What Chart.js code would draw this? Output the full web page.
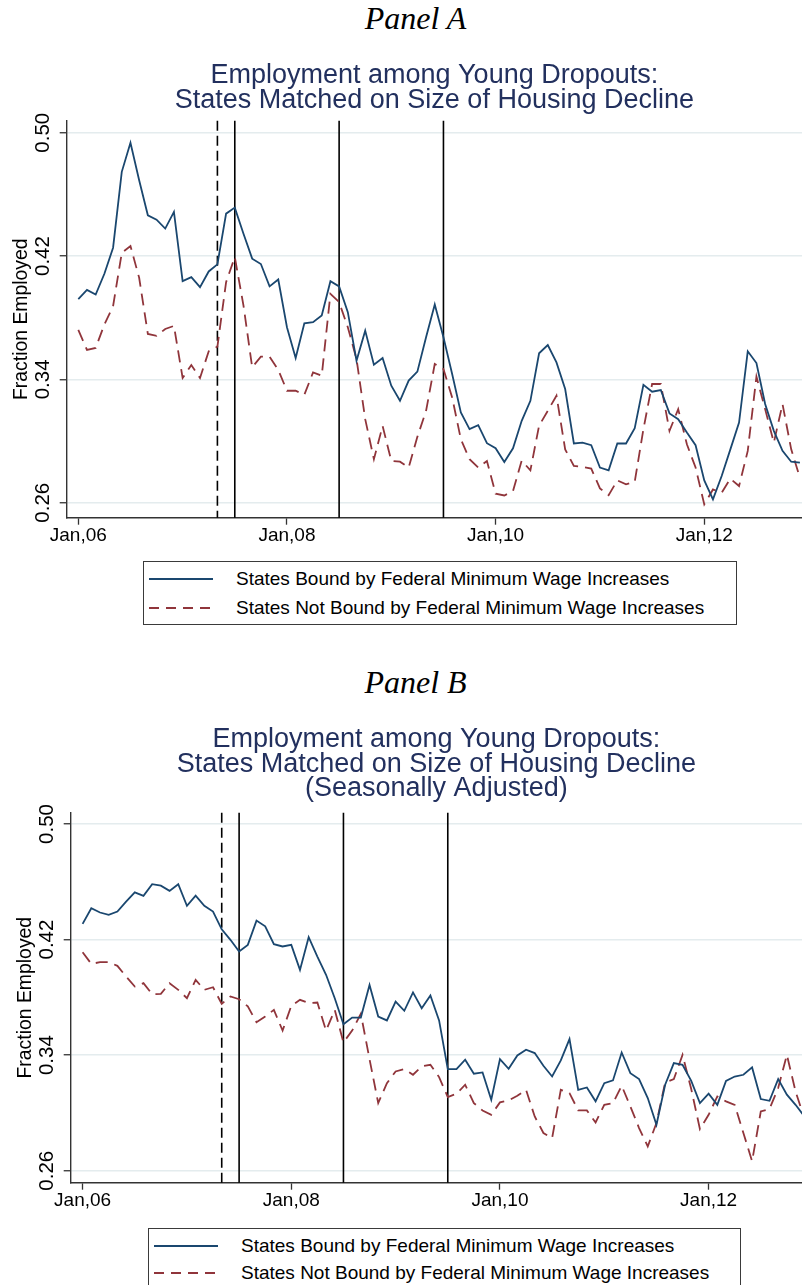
<!DOCTYPE html>
<html>
<head>
<meta charset="utf-8">
<script src="https://cdn.jsdelivr.net/npm/chart.js@4.4.1/dist/chart.umd.min.js"></script>
<style>
html,body{margin:0;padding:0;background:#fff;}
body{width:802px;height:1285px;position:relative;overflow:hidden;font-family:"Liberation Sans",Arial,sans-serif;}
.panel{position:absolute;font-family:"Liberation Serif","Times New Roman",serif;font-style:italic;font-size:32px;line-height:32px;color:#000;white-space:nowrap;}
canvas{position:absolute;left:0;}
.legend{position:absolute;border:1px solid #3a3a3a;box-sizing:border-box;background:#fff;}
.legend svg{position:absolute;left:5px;}
.legend span{position:absolute;left:92px;font-size:19px;line-height:22px;height:22px;color:#000;white-space:nowrap;}
</style>
</head>
<body>
<div class="panel" id="panelA" style="top:1.5px;"><span>Panel A</span></div>
<canvas id="chartA" width="802" height="548" style="top:0px;width:802px;height:548px;"></canvas>
<div class="legend" style="left:143px;top:561px;width:594px;height:64px;">
  <svg style="top:15px" width="64" height="4"><line x1="0" y1="2" x2="64" y2="2" stroke="#1a476f" stroke-width="1.8"/></svg>
  <span style="top:6px">States Bound by Federal Minimum Wage Increases</span>
  <svg style="top:44px" width="64" height="4"><line x1="0" y1="2" x2="64" y2="2" stroke="#90353b" stroke-width="1.8" stroke-dasharray="10 7"/></svg>
  <span style="top:35px">States Not Bound by Federal Minimum Wage Increases</span>
</div>

<div class="panel" id="panelB" style="top:666px;"><span>Panel B</span></div>
<canvas id="chartB" width="802" height="520" style="top:700px;width:802px;height:520px;"></canvas>
<div class="legend" style="left:148px;top:1228px;width:593px;height:72px;">
  <svg style="top:15px" width="64" height="4"><line x1="0" y1="2" x2="64" y2="2" stroke="#1a476f" stroke-width="1.8"/></svg>
  <span style="top:6px">States Bound by Federal Minimum Wage Increases</span>
  <svg style="top:42px" width="64" height="4"><line x1="0" y1="2" x2="64" y2="2" stroke="#90353b" stroke-width="1.8" stroke-dasharray="10 7"/></svg>
  <span style="top:33px">States Not Bound by Federal Minimum Wage Increases</span>
</div>

<script>
// ---------- data (monthly, Jan 2006 = month 0 ... Dec 2012 = month 83) ----------
const seriesNames = ['States Bound by Federal Minimum Wage Increases', 'States Not Bound by Federal Minimum Wage Increases'];
const xTickPositions = [0, 24, 48, 72];
const xTickLabels = ['Jan,06', 'Jan,08', 'Jan,10', 'Jan,12'];
const yTickValues = [0.26, 0.34, 0.42, 0.50];
const eventMonths = [16, 18, 30, 42];          // May 2007 (dashed), Jul 2007, Jul 2008, Jul 2009
const eventDashed = [true, false, false, false];

const titleA = ['Employment among Young Dropouts:', 'States Matched on Size of Housing Decline'];
const titleB = ['Employment among Young Dropouts:', 'States Matched on Size of Housing Decline', '(Seasonally Adjusted)'];

// Panel A: raw
const boundA = [0.392,0.398,0.395,0.4085,0.4254,0.4746,0.4935,0.4692,0.4464,0.4436,0.4378,0.4486,
0.4037,0.4063,0.3998,0.410,0.4146,0.4475,0.4514,0.4345,0.4183,0.4148,0.4003,0.4048,
0.3738,0.3539,0.3764,0.3771,0.3814,0.4037,0.4003,0.3836,0.3521,0.3716,0.3495,0.3539,
0.3359,0.3261,0.3392,0.345,0.3673,0.3886,0.3673,0.3435,0.3185,0.3077,0.3103,0.2986,
0.2953,0.2864,0.2953,0.3131,0.3261,0.3569,0.3623,0.351,0.3337,0.2984,0.299,0.2973,
0.2828,0.281,0.2984,0.2984,0.3083,0.3365,0.332,0.3331,0.3179,0.3142,0.3055,0.2973,
0.2745,0.2622,0.2773,0.2946,0.312,0.3582,0.3506,0.324,0.3066,0.2936,0.2866,0.286];
const notBoundA = [0.3721,0.3591,0.3604,0.3756,0.3875,0.422,0.4265,0.4059,0.3695,0.3682,0.3727,0.3747,
0.3409,0.3493,0.3409,0.3582,0.3612,0.4031,0.4193,0.3879,0.3478,0.3547,0.3547,0.3461,
0.3326,0.3326,0.33,0.3445,0.3424,0.3955,0.3901,0.3738,0.3532,0.3142,0.2882,0.3098,
0.2871,0.2866,0.2828,0.3027,0.3196,0.35,0.3467,0.3283,0.3012,0.2882,0.2828,0.2871,
0.2658,0.2647,0.2675,0.2873,0.281,0.31,0.3196,0.3294,0.2946,0.2838,0.2832,0.2821,
0.2693,0.2649,0.2745,0.2719,0.2736,0.3077,0.337,0.337,0.3066,0.3207,0.2979,0.2828,
0.2589,0.2686,0.2664,0.2756,0.2708,0.2936,0.3418,0.3207,0.299,0.324,0.2946,0.2762];

// Panel B: seasonally adjusted
const boundB = [0.4308,0.4417,0.4387,0.4371,0.4394,0.4463,0.4527,0.4502,0.4583,0.4573,0.4537,0.4583,
0.4433,0.4504,0.4433,0.4394,0.4271,0.4198,0.4117,0.4163,0.4331,0.4292,0.4168,0.4152,
0.4163,0.399,0.4216,0.4082,0.3956,0.3794,0.3614,0.366,0.366,0.3886,0.3667,0.364,
0.3771,0.3707,0.3834,0.3725,0.3813,0.364,0.3303,0.3303,0.3368,0.3271,0.328,0.3091,
0.3372,0.3305,0.3398,0.3437,0.3414,0.3326,0.3252,0.3363,0.3511,0.316,0.3176,0.308,
0.3206,0.3225,0.3418,0.3275,0.3234,0.3103,0.2918,0.3195,0.3345,0.3333,0.3222,0.3068,
0.3133,0.3056,0.3222,0.3252,0.3264,0.3315,0.3096,0.3084,0.3234,0.3126,0.3056,0.2976];
const notBoundB = [0.4112,0.4032,0.4043,0.4043,0.4018,0.3944,0.3875,0.3898,0.3822,0.3824,0.3898,0.3852,
0.3794,0.3921,0.3852,0.387,0.3755,0.3806,0.3787,0.3737,0.3628,0.3668,0.3713,0.357,
0.3741,0.3783,0.376,0.3764,0.357,0.3713,0.3488,0.357,0.3686,0.3372,0.3068,0.3206,
0.3287,0.3303,0.3264,0.3322,0.3333,0.3248,0.311,0.3133,0.3195,0.3068,0.3017,0.2987,
0.3073,0.3086,0.3119,0.316,0.2975,0.2861,0.2826,0.316,0.3137,0.3017,0.3017,0.2934,
0.3056,0.3068,0.3188,0.3045,0.2895,0.2768,0.293,0.3211,0.3234,0.3402,0.3165,0.2888,
0.2987,0.3114,0.308,0.3056,0.2861,0.2665,0.301,0.3027,0.3172,0.3402,0.3149,0.2964];

// ---------- styling ----------
const BLUE = '#1a476f', RED = '#90353b', NAVY = '#22305e';
const SANS = '"Liberation Sans", Arial, sans-serif';

const eventLinesPlugin = {
  id: 'eventLines',
  beforeDatasetsDraw(chart) {
    const {ctx, chartArea: {top, bottom}, scales: {x}} = chart;
    ctx.save();
    ctx.strokeStyle = '#000';
    ctx.lineWidth = 1.6;
    eventMonths.forEach((m, i) => {
      const px = x.getPixelForValue(m);
      ctx.setLineDash(eventDashed[i] ? [10, 5] : []);
      ctx.beginPath();
      ctx.moveTo(px, top);
      ctx.lineTo(px, bottom);
      ctx.stroke();
    });
    ctx.restore();
  }
};

function toPoints(arr) { return arr.map((v, i) => ({x: i, y: v})); }

function makeChart(id, cfg) {
  return new Chart(document.getElementById(id), {
    type: 'line',
    data: {
      datasets: [
        {label: seriesNames[0], data: toPoints(cfg.bound), borderColor: BLUE, borderWidth: 1.8,
         pointRadius: 0, tension: 0, fill: false},
        {label: seriesNames[1], data: toPoints(cfg.notBound), borderColor: RED, borderWidth: 1.8,
         borderDash: [12, 7], pointRadius: 0, tension: 0, fill: false}
      ]
    },
    options: {
      responsive: false,
      animation: false,
      events: [],
      layout: {padding: {top: cfg.padTop, left: 0, right: 0, bottom: 0}},
      plugins: {
        legend: {display: false},
        tooltip: {enabled: false},
        title: {
          display: true, text: cfg.title, fullSize: false, color: NAVY,
          font: {family: SANS, size: 27, weight: 'normal', lineHeight: cfg.titleLH},
          padding: {top: 0, bottom: cfg.titleBottom}
        }
      },
      scales: {
        x: {
          type: 'linear', min: cfg.xMin, max: cfg.xMax,
          afterBuildTicks: s => { s.ticks = xTickPositions.map(v => ({value: v})); },
          afterFit: s => { s.height = cfg.xAxisH; },
          ticks: {
            autoSkip: false, maxRotation: 0, minRotation: 0, padding: 0, color: '#000',
            font: {family: SANS, size: 19},
            callback: (v, i) => xTickLabels[i]
          },
          grid: {drawOnChartArea: false, drawTicks: true, tickLength: 7, tickColor: '#333', tickWidth: 1.3},
          border: {display: true, color: '#333', width: 1.4}
        },
        y: {
          type: 'linear', min: cfg.yMin, max: cfg.yMax,
          afterBuildTicks: s => { s.ticks = yTickValues.map(v => ({value: v})); },
          afterFit: s => { s.width = cfg.yAxisW; },
          ticks: {
            minRotation: 90, maxRotation: 90, crossAlign: 'center', padding: -3.3, color: '#000',
            font: {family: SANS, size: 20.5},
            callback: v => v.toFixed(2)
          },
          grid: {color: '#e4ecee', lineWidth: 1.5, drawTicks: true, tickLength: 7, tickColor: '#333', tickWidth: 1.3},
          border: {display: true, color: '#333', width: 1.4},
          title: {
            display: true, text: 'Fraction Employed', color: '#000',
            font: {family: SANS, size: 19.4, lineHeight: 1.2},
            padding: {top: cfg.yTitlePad, bottom: 0}
          }
        }
      }
    },
    plugins: [eventLinesPlugin]
  });
}

makeChart('chartA', {
  bound: boundA, notBound: notBoundA, title: titleA,
  padTop: 63.5, titleLH: 0.926, titleBottom: 7.2,
  xMin: -1.334, xMax: 83.24, yMin: 0.25027, yMax: 0.50778,
  xAxisH: 30.3, yAxisW: 66.7, yTitlePad: 10.4
});

makeChart('chartB', {
  bound: boundB, notBound: notBoundB, title: titleB,
  padTop: 27.75, titleLH: 0.907, titleBottom: 11.45,
  xMin: -1.37, xMax: 82.74, yMin: 0.25169, yMax: 0.50782,
  xAxisH: 37.3, yAxisW: 70.7, yTitlePad: 14.4
});

// centre the panel labels where the reference has them
['panelA', 'panelB'].forEach(id => {
  const el = document.getElementById(id);
  const sw = el.firstElementChild.getBoundingClientRect().width;
  el.style.left = (415.5 - sw / 2) + 'px';
});
</script>
</body>
</html>
